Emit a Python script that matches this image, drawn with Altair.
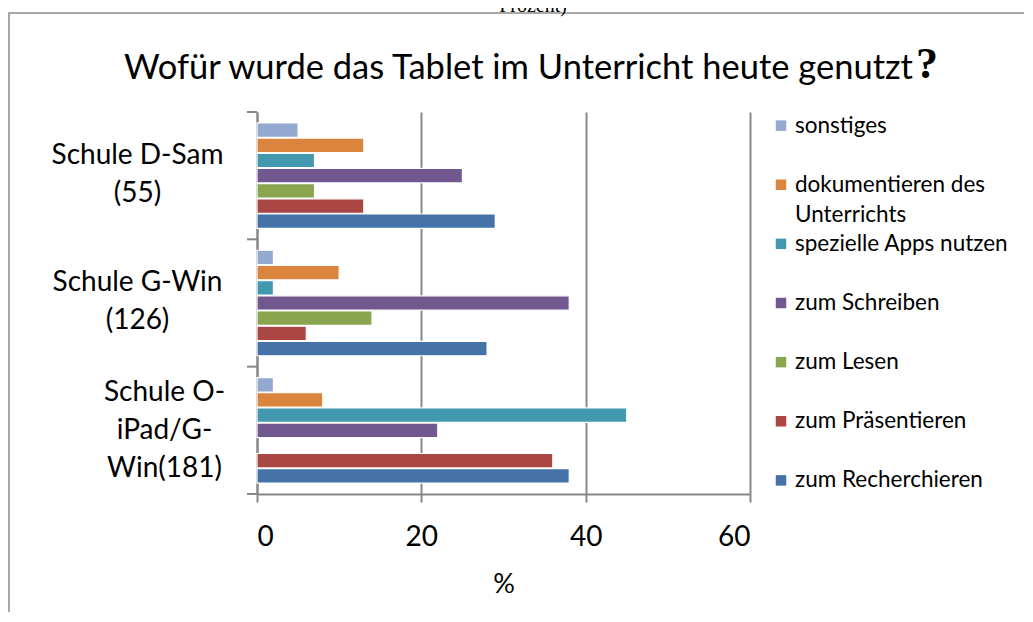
import altair as alt
import pandas as pd

# ---------------- data ----------------
groups = ["Schule D-Sam (55)", "Schule G-Win (126)", "Schule O-iPad/G-Win(181)"]
group_lines = [["Schule D-Sam", "(55)"], ["Schule G-Win", "(126)"], ["Schule O-", "iPad/G-", "Win(181)"]]

series = ["zum Recherchieren", "zum Präsentieren", "zum Lesen", "zum Schreiben",
          "spezielle Apps nutzen", "dokumentieren des Unterrichts", "sonstiges"]
colors = ["#4572A7", "#AA4643", "#89A54E", "#71588F", "#4198AF", "#DB843D", "#93A9CF"]

zum_recherchieren = [29, 28, 38]
zum_praesentieren = [13, 6, 36]
zum_lesen = [7, 14, 0]
zum_schreiben = [25, 38, 22]
spezielle_apps = [7, 2, 45]
dokumentieren = [13, 10, 8]
sonstiges = [5, 2, 2]

x_ticks = [0, 20, 40, 60]
title_text = "Wofür wurde das Tablet im Unterricht heute genutzt"
caption_text = "Prozent)"
x_title = "%"

values = [zum_recherchieren, zum_praesentieren, zum_lesen, zum_schreiben,
          spezielle_apps, dokumentieren, sonstiges]
rows = []
for s, vals in zip(series, values):
    for g, v in zip(groups, vals):
        rows.append({"group": g, "series": s, "value": v})
df = pd.DataFrame(rows)

legend_order = list(reversed(series))
FONT = "Lato"
GRAY = "#878787"

label_expr = ""
for g, lines in zip(groups, group_lines):
    arr = "[" + ",".join("'" + l + "'" for l in lines) + "]"
    label_expr += f"datum.label === '{g}' ? {arr} : "
label_expr += "datum.label"

color_scale = alt.Scale(domain=series, range=colors)
third = f"datum.value === '{groups[2]}'"

bars = alt.Chart(df).transform_filter("datum.value > 0").mark_bar(
    stroke="white", strokeWidth=1.2
).encode(
    x=alt.X("value:Q", scale=alt.Scale(domain=[0, 60]),
            axis=alt.Axis(values=x_ticks, title=x_title, grid=True, gridColor=GRAY, gridWidth=2,
                          domainColor=GRAY, domainWidth=2, tickColor=GRAY, tickWidth=2, tickSize=8,
                          labelFont=FONT, labelFontSize=28, labelColor="black", labelPadding=21,
                          titleFont=FONT, titleFontSize=27, titleFontWeight="normal",
                          titleColor="black", titlePadding=20)),
    y=alt.Y("group:N", sort=groups, scale=alt.Scale(paddingInner=0, paddingOuter=0),
            axis=alt.Axis(title=None, ticks=False, domainColor=GRAY, domainWidth=2,
                          labelExpr=label_expr, labelAlign="center", labelBaseline="middle",
                          labelPadding={"condition": {"test": third, "value": 93}, "value": 120},
                          labelOffset={"condition": {"test": third, "value": -37}, "value": -20},
                          labelFont=FONT, labelFontSize=28, labelLineHeight=38, labelColor="black",
                          labelLimit=400)),
    yOffset=alt.YOffset("series:N", sort=legend_order,
                        scale=alt.Scale(paddingInner=0.05, paddingOuter=0.72)),
    color=alt.Color("series:N", scale=color_scale, legend=None),
)

tick_df = pd.DataFrame({"group": groups})
tick_top = alt.Chart(tick_df).mark_rule(color=GRAY, strokeWidth=2).encode(
    y=alt.Y("group:N", sort=groups, bandPosition=0),
    x=alt.value(-10), x2=alt.value(0),
)
tick_bottom = alt.Chart(tick_df).transform_filter(
    alt.datum.group == groups[-1]
).mark_rule(color=GRAY, strokeWidth=2).encode(
    y=alt.Y("group:N", sort=groups, bandPosition=1),
    x=alt.value(-10), x2=alt.value(0),
)

one = pd.DataFrame({"t": [title_text], "q": ["?"], "c": [caption_text]})
frame = alt.Chart(one).mark_rect(fillOpacity=0, stroke="#8c8c8c", strokeWidth=1.5).encode(
    x=alt.value(-248), x2=alt.value(1200), y=alt.value(-99), y2=alt.value(900)
)
title = alt.Chart(one).mark_text(align="right", baseline="alphabetic", font=FONT,
                                 fontSize=34.5, color="black").encode(
    x=alt.value(656), y=alt.value(-33), text="t:N")
qmark = alt.Chart(one).mark_text(align="left", baseline="alphabetic", font="Liberation Serif",
                                 fontWeight="bold", fontSize=44, color="black").encode(
    x=alt.value(659), y=alt.value(-34), text="q:N")
caption = alt.Chart(one).mark_text(align="center", baseline="alphabetic", font="Liberation Serif",
                                   fontSize=20, color="black").encode(
    x=alt.value(276), y=alt.value(-100), text="c:N")

inner = alt.layer(frame, title, qmark, caption, bars, tick_top, tick_bottom)

leg_df = pd.DataFrame({"series": series})
leg_y = alt.Y("series:N", sort=legend_order, scale=alt.Scale(type="point", padding=0.23), axis=None)
leg_sq = alt.Chart(leg_df).mark_square(size=110, opacity=1).encode(
    x=alt.value(524), y=leg_y,
    color=alt.Color("series:N", scale=color_scale, legend=None),
)
leg_tx = alt.Chart(leg_df).transform_calculate(
    lbl="replace(datum.series, 'des ', 'des\\n')"
).mark_text(align="left", baseline="middle", font=FONT, fontSize=22.5, lineBreak="\n",
            lineHeight=30, color="black").encode(
    x=alt.value(538), y=leg_y, text="lbl:N"
)
legend = alt.layer(leg_sq, leg_tx)

chart = alt.layer(inner, legend).resolve_scale(y="independent").properties(
    width=493, height=382,
    autosize=alt.AutoSizeParams(type="none"),
    padding={"left": 249, "top": 104, "right": 274, "bottom": 118},
    background="white",
).configure_view(stroke=None)

chart.save("out.html", embed_options={"renderer": "svg", "actions": False})
